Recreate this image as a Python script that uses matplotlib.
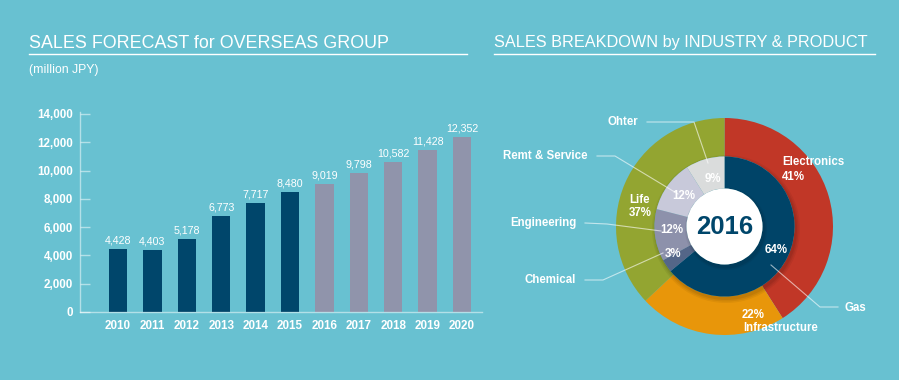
import numpy as np
import matplotlib.pyplot as plt
from matplotlib.patches import Circle

plt.rcParams['font.family'] = ['Liberation Sans', 'DejaVu Sans']

# ---- data ----
years = ['2010', '2011', '2012', '2013', '2014', '2015',
         '2016', '2017', '2018', '2019', '2020']
sales = [4428, 4403, 5178, 6773, 7717, 8480, 9019, 9798, 10582, 11428, 12352]
n_actual = 6  # 2010-2015 actual, rest forecast
yticks = [0, 2000, 4000, 6000, 8000, 10000, 12000, 14000]

outer_labels = ['Electronics', 'Infrastructure', 'Life']
outer_vals = [41, 22, 37]
inner_labels = ['Gas', 'Chemical', 'Engineering', 'Remt & Service', 'Ohter']
inner_vals = [64, 3, 12, 12, 9]

BG = '#68c1d1'
DARK = '#00466b'
FCST = '#9094ab'
outer_colors = ['#c13727', '#e8960a', '#93a531']
inner_colors = ['#004468', '#546688', '#8d91ab', '#c8c9da', '#dadcdc']

W, H = 899, 380
fig = plt.figure(figsize=(W / 100, H / 100), dpi=100, facecolor=BG)

def Y(py):
    return H - py

# ---- overlay (titles, donut) in pixel units ----
ov = fig.add_axes([0, 0, 1, 1])
ov.set_facecolor('none')
ov.axis('off')

ov.text(29, Y(43), 'SALES FORECAST for OVERSEAS GROUP', color='white',
        fontsize=12.9, ha='left', va='center')
ov.plot([29, 467], [Y(53.5), Y(53.5)], color='white', lw=1)
ov.text(29, Y(70), '(million JPY)', color='white', fontsize=8.8,
        ha='left', va='center')

ov.text(494, Y(43), 'SALES BREAKDOWN by INDUSTRY & PRODUCT', color='white',
        fontsize=11.7, ha='left', va='center')
ov.plot([494, 875], [Y(54), Y(54)], color='white', lw=1)

cx, cy = 724.5, Y(226.5)
R_out, R_mid, R_in = 108.5, 70, 38

ov.pie(outer_vals, radius=R_out, center=(cx, cy), startangle=90,
       counterclock=False, colors=outer_colors,
       wedgeprops=dict(width=R_out - R_mid, linewidth=0))
# soft shadow under inner ring
for k, a in [(4, 0.05), (2.5, 0.06), (1, 0.07)]:
    ov.add_patch(Circle((cx + 1.5, cy - 2.5), R_mid + k, color='black',
                        alpha=a, lw=0, zorder=1.5))
w_in, _ = ov.pie(inner_vals, radius=R_mid, center=(cx, cy), startangle=90,
                 counterclock=False, colors=inner_colors,
                 wedgeprops=dict(width=R_mid - R_in, linewidth=0))
for w in w_in:
    w.set_zorder(2)
for k, a in [(3, 0.05), (1.5, 0.07)]:
    ov.add_patch(Circle((cx + 1.5, cy - 2.5), R_in + k, color='black',
                        alpha=a, lw=0, zorder=2.5))
ov.add_patch(Circle((cx, cy), R_in, color='white', lw=0, zorder=3))
ov.text(cx, cy, '2016', color=DARK, fontsize=18.5, fontweight='bold',
        ha='center', va='center', zorder=4)

ov.set_xlim(0, W)
ov.set_ylim(0, H)
ov.set_aspect('auto')

lab = dict(color='white', fontsize=8.3, fontweight='bold', zorder=5)
# outer ring labels
ov.text(813, Y(162), f'{outer_labels[0]}', ha='center', va='center', **lab)
ov.text(793, Y(177), f'{outer_vals[0]}%', ha='center', va='center', **lab)
ov.text(742, Y(315), f'{outer_vals[1]}%', ha='left', va='center', **lab)
ov.text(743, Y(328), outer_labels[1], ha='left', va='center', **lab)
ov.text(640, Y(200), outer_labels[2], ha='center', va='center', **lab)
ov.text(640, Y(213), f'{outer_vals[2]}%', ha='center', va='center', **lab)

# inner ring percentages
inner_pos = [(776, 250), (673, 254), (672, 230), (684, 196), (713, 179)]
for (px, py), v in zip(inner_pos, inner_vals):
    ov.text(px, Y(py), f'{v}%', ha='center', va='center', **lab)

# outside labels with leader lines
leader = dict(color='white', lw=0.8, alpha=0.6, zorder=4.5)
ov.plot([647, 694, 708], [Y(122), Y(122), Y(163)], **leader)
ov.text(623, Y(122), inner_labels[4], ha='center', va='center', **lab)
ov.plot([597, 615, 678], [Y(156), Y(156), Y(194)], **leader)
ov.text(545, Y(156), inner_labels[3], ha='center', va='center', **lab)
ov.plot([585, 607, 661], [Y(223), Y(224), Y(231)], **leader)
ov.text(543, Y(223), inner_labels[2], ha='center', va='center', **lab)
ov.plot([585, 603, 663], [Y(280), Y(280), Y(253)], **leader)
ov.text(550, Y(280), inner_labels[1], ha='center', va='center', **lab)
ov.plot([771, 820, 838], [Y(265), Y(307), Y(307)], **leader)
ov.text(855, Y(308), inner_labels[0], ha='center', va='center', **lab)

# ---- bar chart ----
x0, x1 = 80, 482
py_bot, ax_h = 312, 200
ax = fig.add_axes([x0 / W, (H - py_bot) / H, (x1 - x0) / W, ax_h / H])
ax.set_facecolor('none')
sp = 34.4
ax.set_xlim(-(118 - x0) / sp, 10 + (x1 - 462) / sp)
ax.set_ylim(0, ax_h * 14000 / 198)

x = np.arange(len(years))
bar_colors = [DARK if i < n_actual else FCST for i in range(len(years))]
ax.bar(x, sales, width=0.53, color=bar_colors, zorder=2)
for xi, v in zip(x, sales):
    ax.text(xi, v + 250, f'{v:,}', color='white', fontsize=7.7,
            ha='center', va='bottom')

ax.set_xticks(x)
ax.set_xticklabels(years)
ax.set_yticks(yticks)
ax.set_yticklabels([f'{t:,}' for t in yticks])
ax.tick_params(axis='x', length=0, pad=6, labelcolor='white', labelsize=8.4)
ax.tick_params(axis='y', direction='in', length=7, width=1,
               color=(1, 1, 1, 0.5), pad=5, labelcolor='white', labelsize=8.4)
for t in ax.get_xticklabels() + ax.get_yticklabels():
    t.set_fontweight('bold')
for s in ['top', 'right']:
    ax.spines[s].set_visible(False)
for s in ['left', 'bottom']:
    ax.spines[s].set_color((1, 1, 1, 0.5))
    ax.spines[s].set_linewidth(1)

fig.savefig('out.png', dpi=100, facecolor=BG)
